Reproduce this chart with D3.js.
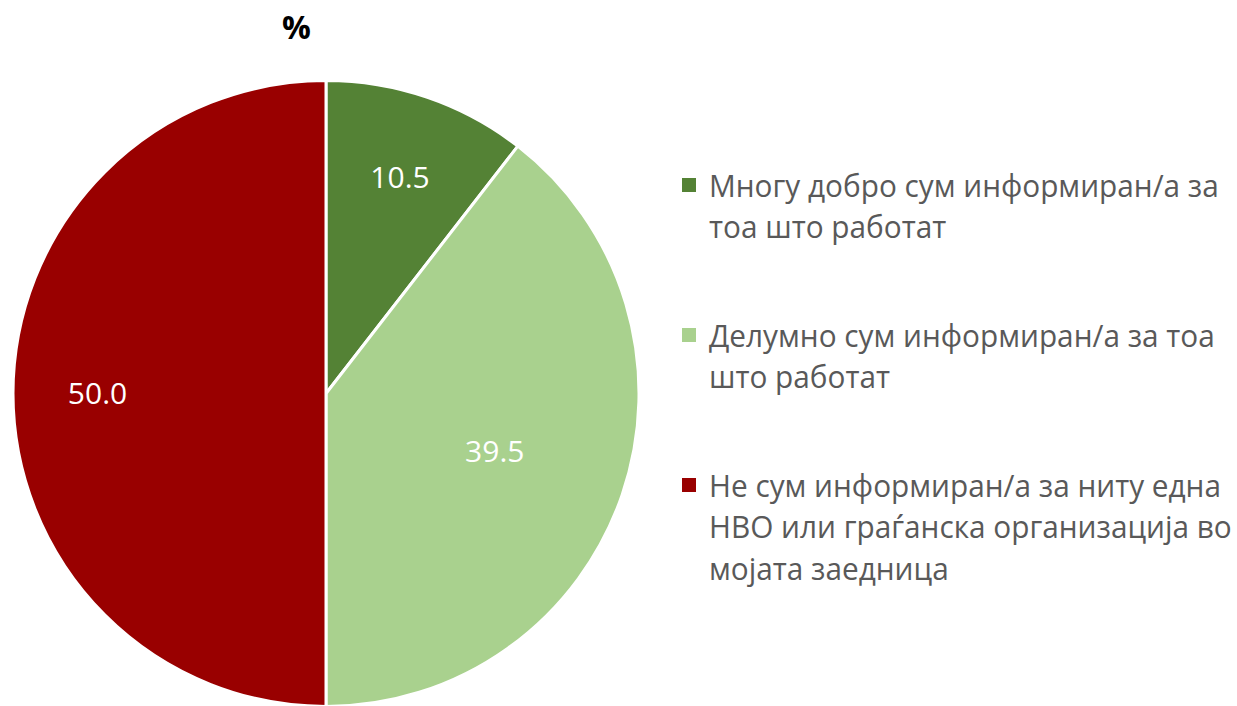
<!DOCTYPE html>
<html>
<head>
<meta charset="utf-8">
<script src="https://cdn.jsdelivr.net/npm/d3@7"></script>
<style>
  body { margin: 0; background: #fff; }
  svg { display: block; font-family: "Open Sans", sans-serif; }
</style>
</head>
<body>
<script>
// Data
var categories = [
  "Многу добро сум информиран/а за тоа што работат",
  "Делумно сум информиран/а за тоа што работат",
  "Не сум информиран/а за ниту една НВО или граѓанска организација во мојата заедница"
];
var values = [10.5, 39.5, 50.0];
var legendLines = [
  ["Многу добро сум информиран/а за", "тоа што работат"],
  ["Делумно сум информиран/а за тоа", "што работат"],
  ["Не сум информиран/а за ниту една", "НВО или граѓанска организација во", "мојата заедница"]
];
var colors = ["#548235", "#a9d18e", "#990000"];

var svgWidth = 1237;
var svgHeight = 706;

// pie geometry
var cx = 326, cy = 393.5, radius = 313;
// where each value label sits, as a fraction of the radius
var labelFrac = [0.73, 0.57, 0.73];

var svg = d3.select("body")
  .append("svg")
  .attr("width", svgWidth)
  .attr("height", svgHeight);

// title
svg.append("text")
  .attr("x", 296.5)
  .attr("y", 39)
  .attr("text-anchor", "middle")
  .style("font-size", "32px")
  .style("font-weight", "bold")
  .style("fill", "#000")
  .text("%");

var pie = d3.pie().sort(null).value(d => d);
var arcs = pie(values);

var arc = d3.arc().innerRadius(0).outerRadius(radius);

var pieGroup = svg.append("g")
  .attr("transform", `translate(${cx}, ${cy})`);

pieGroup.selectAll("path")
  .data(arcs)
  .enter()
  .append("path")
  .attr("d", arc)
  .attr("fill", (d, i) => colors[i])
  .attr("stroke", "#fff")
  .attr("stroke-width", 3)
  .attr("stroke-linejoin", "round");

pieGroup.selectAll(".val")
  .data(arcs)
  .enter()
  .append("text")
  .attr("class", "val")
  .attr("transform", function(d, i) {
    var r = radius * labelFrac[i];
    var c = d3.arc().innerRadius(r).outerRadius(r).centroid(d);
    return `translate(${c[0]}, ${c[1]})`;
  })
  .attr("text-anchor", "middle")
  .attr("dy", "0.36em")
  .style("font-size", "30px")
  .style("fill", "#fff")
  .text(d => d.value.toFixed(1));

// legend
var legendX = 682, textX = 709;
var maxTextW = 523;
var lineH = 41.5, itemGap = 67;
var firstBaseline = 197;

var legend = svg.append("g");
var textGroup = legend.append("g");
var y = firstBaseline;
legendLines.forEach(function(lines, i) {
  legend.append("rect")
    .attr("x", legendX)
    .attr("y", y - 19)
    .attr("width", 14)
    .attr("height", 14)
    .attr("fill", colors[i]);
  var t = textGroup.append("text")
    .attr("x", 0)
    .attr("y", y)
    .style("font-size", "30.5px")
    .style("fill", "#595959");
  lines.forEach(function(line, j) {
    t.append("tspan")
      .attr("x", 0)
      .attr("y", y + j * lineH)
      .text(line);
  });
  y += lines.length * lineH + itemGap;
});

// squeeze the legend text slightly so the longest line fits the space
var widest = 0;
textGroup.selectAll("tspan").each(function() {
  widest = Math.max(widest, this.getComputedTextLength());
});
var sx = Math.min(1, maxTextW / widest);
textGroup.attr("transform", `translate(${textX}, 0) scale(${sx}, 1)`);
</script>
</body>
</html>
